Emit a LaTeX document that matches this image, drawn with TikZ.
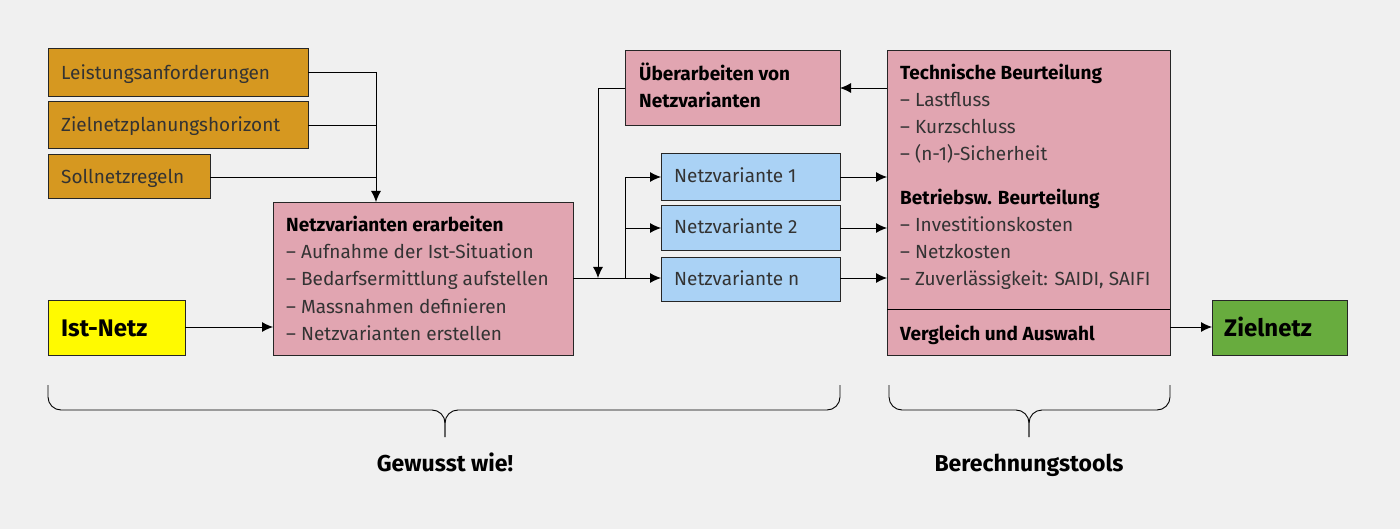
\documentclass[tikz,border=0pt]{standalone}
\usepackage{fontspec}
\setmainfont{Fira Sans}
\usetikzlibrary{positioning,arrows.meta}
\definecolor{bgcolor}{RGB}{240,240,240}
\definecolor{inputcolor}{RGB}{214,152,32}
\definecolor{stepcolor}{RGB}{225,165,177}
\definecolor{varcolor}{RGB}{170,210,245}
\definecolor{startcolor}{RGB}{255,250,0}
\definecolor{goalcolor}{RGB}{104,172,62}
\begin{document}
\begin{tikzpicture}[x=1pt,y=-1pt
	,box/.style={draw=black!85,line width=0.8pt,anchor=north west,inner sep=0pt}
	,txt/.style={anchor=base west,inner sep=0pt,font=\fontsize{19}{23}\selectfont,text=black!80}
	,head/.style={anchor=base west,inner sep=0pt,font=\fontsize{19}{23}\selectfont\bfseries}
	,flow/.style={line width=0.9pt,-{Latex[length=11pt,width=10pt]}}
	,line/.style={line width=0.9pt}
	,brc/.style={line width=0.9pt,rounded corners=13pt}
	]
	\fill[bgcolor] (0,0) rectangle (1400,529);
	% inputs
	\node[box,fill=inputcolor,minimum width=260pt,minimum height=48pt] (lst) at (48,48) {};
	\node[txt] at (61,80) {Leistungsanforderungen};
	\node[box,fill=inputcolor,minimum width=260pt,minimum height=47pt] (hor) at (48,101) {};
	\node[txt] at (61,132) {Zielnetzplanungshorizont};
	\node[box,fill=inputcolor,minimum width=162pt,minimum height=44pt] (soll) at (48,154) {};
	\node[txt] at (61,184) {Sollnetzregeln};
	\node[box,fill=startcolor,minimum width=137pt,minimum height=55pt] (ist) at (48,300) {};
	\node[head,font=\fontsize{24}{28}\selectfont\bfseries] at (61,336) {Ist-Netz};
	% Netzvarianten erarbeiten
	\node[box,fill=stepcolor,minimum width=300pt,minimum height=153pt] (erarb) at (273,202) {};
	\node[head] at (286,232) {Netzvarianten erarbeiten};
	\foreach \t [count=\i] in {Aufnahme der Ist-Situation,Bedarfsermittlung aufstellen,Massnahmen definieren,Netzvarianten erstellen}
		\node[txt] at (286,232+27*\i) {– \t};
	% Ueberarbeiten
	\node[box,fill=stepcolor,minimum width=215pt,minimum height=75pt] (ueber) at (625,50) {};
	\node[head] at (639,81) {Überarbeiten von};
	\node[head] at (639,108) {Netzvarianten};
	% variants
	\node[box,fill=varcolor,minimum width=179pt,minimum height=47pt] (nv1) at (661,153) {};
	\node[txt] at (674,183) {Netzvariante 1};
	\node[box,fill=varcolor,minimum width=179pt,minimum height=45pt] (nv2) at (661,205) {};
	\node[txt] at (674,234) {Netzvariante 2};
	\node[box,fill=varcolor,minimum width=179pt,minimum height=44pt] (nvn) at (661,257) {};
	\node[txt] at (674,286) {Netzvariante n};
	% Beurteilung
	\node[box,fill=stepcolor,minimum width=283pt,minimum height=305pt] (tools) at (887,50) {};
	\draw[line] (887,309) -- (1170,309);
	\node[head] at (900,80) {Technische Beurteilung};
	\foreach \t [count=\i] in {Lastfluss,Kurzschluss,(n-1)-Sicherheit}
		\node[txt] at (900,80+27*\i) {– \t};
	\node[head] at (900,205) {Betriebsw. Beurteilung};
	\foreach \t [count=\i] in {Investitionskosten,Netzkosten,{Zuverlässigkeit: SAIDI, SAIFI}}
		\node[txt] at (900,205+27*\i) {– \t};
	\node[head] at (900,340) {Vergleich und Auswahl};
	\node[box,fill=goalcolor,minimum width=135pt,minimum height=55pt] (ziel) at (1212,300) {};
	\node[head,font=\fontsize{24}{28}\selectfont\bfseries] at (1224,336) {Zielnetz};
	% connectors
	\coordinate (join) at (376,72);
	\draw[line] (308,72) -- (join);
	\draw[line] (308,125) -- (376,125);
	\draw[line] (210,177) -- (376,177);
	\draw[flow] (join) -- (erarb.north west -| join);
	\draw[flow] (185,327) -- (273,327);
	\coordinate (split) at (625,278);
	\draw[line] (573,278) -- (split);
	\draw[flow] (split) |- (661,177);
	\draw[flow] (625,228) -- (661,228);
	\draw[flow] (split) -- (661,278);
	\draw[flow] (840,177) -- (887,177);
	\draw[flow] (840,228) -- (887,228);
	\draw[flow] (840,278) -- (887,278);
	\draw[flow] (887,88) -- (840,88);
	\draw[flow] (625,88) -- (598,88) -- (598,278);
	\draw[flow] (1170,327) -- (1212,327);
	% braces
	\draw[brc] (48,385) |- (445,410) -- (445,437);
	\draw[brc] (840,385) |- (445,410) -- (445,437);
	\draw[brc] (889,385) |- (1029,410) -- (1029,437);
	\draw[brc] (1170,385) |- (1029,410) -- (1029,437);
	\node[head,anchor=base,font=\fontsize{23}{27}\selectfont\bfseries] at (445,471) {Gewusst wie!};
	\node[head,anchor=base,font=\fontsize{23}{27}\selectfont\bfseries] at (1029,471) {Berechnungstools};
\end{tikzpicture}
\end{document}
